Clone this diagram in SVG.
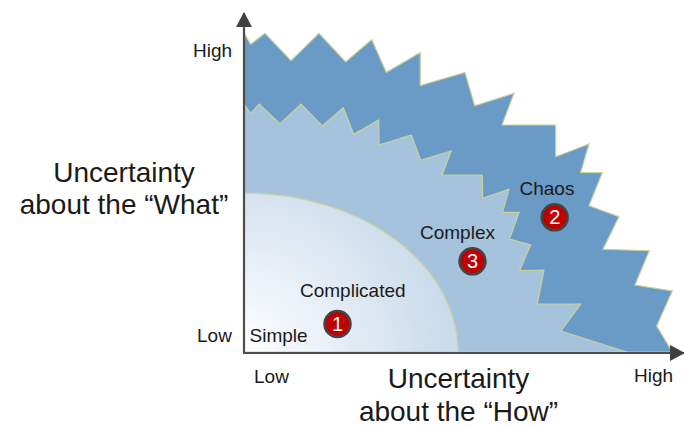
<svg xmlns="http://www.w3.org/2000/svg" width="684" height="427" viewBox="0 0 684 427">
  <defs>
    <style>
      .lbl { font-family: "Liberation Sans", Arial, sans-serif; fill: #1a1a1a; }
      .sm { font-size: 19px; }
      .big { font-size: 28px; text-anchor: middle; }
      .edge { stroke: #c9d29a; stroke-width: 1.2; stroke-linejoin: miter; }
      .axis { stroke: #4d4d4d; stroke-width: 2.2; fill: none; }
      .dot { fill: #c00000; stroke: #454545; stroke-width: 2.5; }
      .num { font-family: "Liberation Sans", Arial, sans-serif; font-size: 20px; fill: #ffffff; text-anchor: middle; }
    </style>
    <radialGradient id="simpleGrad" gradientUnits="userSpaceOnUse" cx="244" cy="352" r="240">
      <stop offset="0" stop-color="#ffffff"/>
      <stop offset="0.55" stop-color="#dce7f2"/>
      <stop offset="1" stop-color="#c2d5e7"/>
    </radialGradient>
    <marker id="arrow" viewBox="0 0 15 16" refX="14" refY="8" markerWidth="15" markerHeight="16" markerUnits="userSpaceOnUse" orient="auto">
      <path d="M0,0 L15,8 L0,16 Z" fill="#404040"/>
    </marker>
  </defs>
  <rect width="684" height="427" fill="#ffffff"/>

  <g id="chaos-region">
    <polygon class="edge" fill="#6a9bc6" points="244,33 250.7,44.3 265,33.3 291,60.7 319,33.3 345.7,62 371.7,39.5 386.3,72.3 420.3,52.5 420.3,85.5 465,72.5 474.7,105.7 514,93.3 502,125 555.7,125 555.7,156.7 589,144 580.7,172.3 602.3,172.7 589,205.7 619,216.7 603,249.3 649.3,250.7 635,285 672.3,291 656.7,326 672.3,352 244,352"/>
  </g>
  <g id="complex-region">
    <polygon class="edge" fill="#a6c3de" points="244,104 250.7,113.3 259.3,104 280,124 301,104 322.3,126 343.3,107.7 353.7,134.3 378.7,120 379.2,145 411.3,135 420.7,160.3 451.2,151 442,175 482.3,175 482.7,198.3 509,189.3 502.5,212.3 519.2,212.3 509.5,239 530.7,245 519.6,270.7 544,270 537.3,304 580.7,304 561,331 626.7,352 244,352"/>
  </g>
  <g id="complicated-region">
    <path class="edge" fill="url(#simpleGrad)" d="M244,352 L244,193 A214,159 0 0 1 458,352 Z"/>
  </g>

  <g id="connectors">
    <line class="axis" x1="244" y1="353" x2="244" y2="13" marker-end="url(#arrow)"/>
    <line class="axis" x1="243" y1="353" x2="684" y2="353" marker-end="url(#arrow)"/>
  </g>

  <g id="axis-labels">
    <text class="lbl sm" x="193" y="56.5">High</text>
    <text class="lbl sm" x="197" y="342">Low</text>
    <text class="lbl sm" x="254" y="382.5">Low</text>
    <text class="lbl sm" x="634" y="381.7">High</text>
    <text class="lbl big" x="124" y="182">Uncertainty</text>
    <text class="lbl big" x="124" y="213.5">about the “What”</text>
    <text class="lbl big" x="458.5" y="388.3">Uncertainty</text>
    <text class="lbl big" x="458.5" y="420.5">about the “How”</text>
  </g>

  <g id="node-simple">
    <text class="lbl sm" x="249.5" y="341.7">Simple</text>
  </g>
  <g id="node-complicated">
    <text class="lbl sm" x="300" y="297.3">Complicated</text>
    <circle class="dot" cx="337.5" cy="324" r="13"/>
    <text class="num" x="337.5" y="331">1</text>
  </g>
  <g id="node-complex">
    <text class="lbl sm" x="420" y="239.3">Complex</text>
    <circle class="dot" cx="472.5" cy="261.3" r="13"/>
    <text class="num" x="472.5" y="268.3">3</text>
  </g>
  <g id="node-chaos">
    <text class="lbl sm" x="519.5" y="195">Chaos</text>
    <circle class="dot" cx="554.7" cy="217.3" r="13"/>
    <text class="num" x="554.7" y="224.3">2</text>
  </g>
</svg>
